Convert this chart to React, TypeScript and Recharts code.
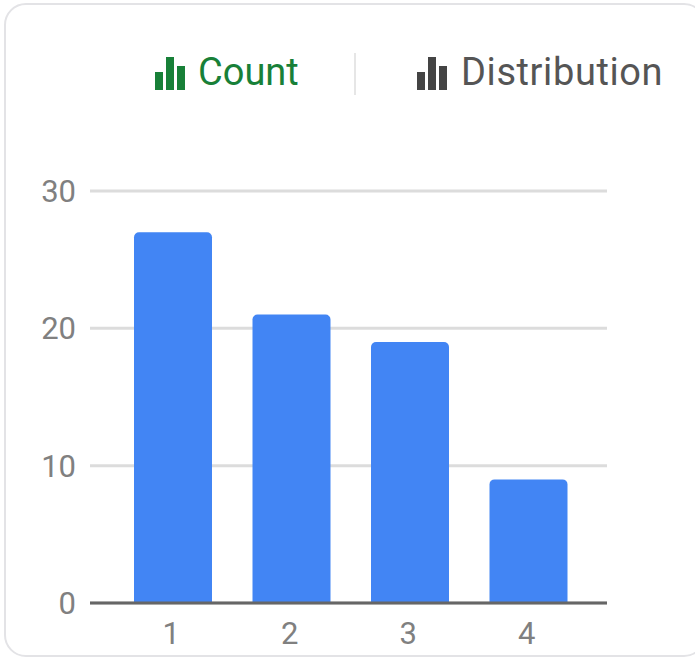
import { BarChart, Bar, XAxis, YAxis, CartesianGrid, ReferenceLine } from "recharts";

const categories = ["1", "2", "3", "4"];
const counts = [27, 21, 19, 9];
const yTicks = [0, 10, 20, 30];

const data = categories.map((c, i) => ({ name: c, count: counts[i] }));

const FONT = "Roboto, sans-serif";

function BarsIcon({ color }: { color: string }) {
  return (
    <svg width="32" height="34" viewBox="0 0 32 34" style={{ display: "block" }}>
      <rect x="0" y="15" width="8" height="18" fill={color} />
      <rect x="11" y="0" width="8" height="33" fill={color} />
      <rect x="22" y="9" width="8" height="24" fill={color} />
    </svg>
  );
}

export default function App() {
  return (
    <div
      style={{
        position: "fixed",
        left: 0,
        top: 0,
        width: 695,
        height: 657,
        background: "#fff",
        overflow: "hidden",
        fontFamily: FONT,
      }}
    >
      <div
        style={{
          position: "absolute",
          left: 4,
          top: 3,
          width: 702,
          height: 654,
          border: "2px solid #e3e3e6",
          borderRadius: 22,
          boxSizing: "border-box",
        }}
      />
      <div style={{ position: "absolute", left: 155, top: 57 }}>
        <BarsIcon color="#188038" />
      </div>
      <div style={{ position: "absolute", left: 198, top: 50, fontSize: 38, color: "#188038", lineHeight: "44px" }}>
        Count
      </div>
      <div style={{ position: "absolute", left: 354, top: 53, width: 2, height: 42, background: "#e6e6e6" }} />
      <div style={{ position: "absolute", left: 417, top: 57 }}>
        <BarsIcon color="#444" />
      </div>
      <div
        style={{
          position: "absolute",
          left: 461,
          top: 50,
          fontSize: 38,
          letterSpacing: 0.6,
          color: "#555",
          lineHeight: "44px",
        }}
      >
        Distribution
      </div>
      <div style={{ position: "absolute", left: 0, top: 150 }}>
        <BarChart
          width={695}
          height={507}
          data={data}
          margin={{ top: 41, right: 88, bottom: 0, left: 0 }}
          barSize={78}
        >
          <CartesianGrid vertical={false} stroke="#dcdcdc" strokeWidth={3} />
          <XAxis
            dataKey="name"
            height={54}
            padding={{ left: 24, right: 19 }}
            axisLine={false}
            tickLine={false}
            tick={{ fill: "#808080", fontSize: 31, fontFamily: FONT, dx: -2 }}
            tickMargin={13}
          />
          <YAxis
            domain={[0, 30]}
            ticks={yTicks}
            width={90}
            axisLine={false}
            tickLine={false}
            tick={{ fill: "#808080", fontSize: 31, fontFamily: FONT }}
            tickMargin={8}
          />
          <Bar dataKey="count" fill="#4285f4" radius={[5, 5, 0, 0]} isAnimationActive={false} />
          <ReferenceLine y={0} stroke="#666" strokeWidth={3} />
        </BarChart>
      </div>
    </div>
  );
}
